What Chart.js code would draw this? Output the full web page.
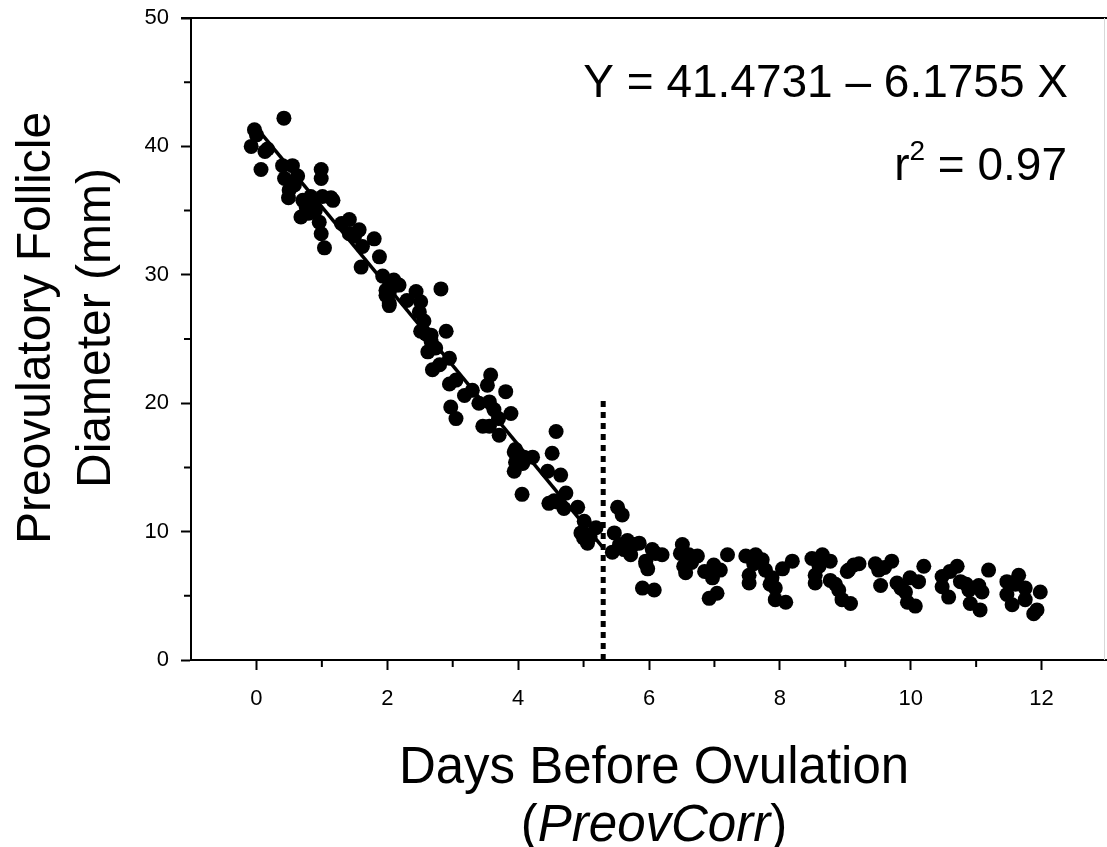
<!DOCTYPE html>
<html>
<head>
<meta charset="utf-8">
<script src="https://cdn.jsdelivr.net/npm/chart.js@4.4.1/dist/chart.umd.min.js"></script>
<style>
  body { margin: 0; background: #fff; }
  #wrap { width: 1107px; height: 847px; }
</style>
</head>
<body>
<div id="wrap"><canvas id="chart" width="1107" height="847"></canvas></div>
<script>
// days before ovulation (x) and follicle diameter in mm (y)
const daysX = [
  -0.03, 0.0, -0.08, 0.17, 0.07, 0.42, 0.40, 0.55, 0.43, 0.63, 0.50, 0.49, 0.99, 0.99, 0.71, 0.68,
  0.86, 1.01, 1.17, 0.96, 0.99, 1.04, 0.76, 0.83, 1.14, 0.13, 0.58, 0.80, 0.90,
  1.42, 1.57, 1.42, 1.80, 1.62, 1.88, 1.60, 1.93, 2.13, 2.03, 1.98, 2.03, 2.03, 2.03, 1.50, 1.30,
  2.18, 2.10, 1.98,
  2.44, 2.82, 2.51, 2.49, 2.56, 2.51, 2.67, 2.90, 2.62, 2.74, 2.95, 2.69, 2.95, 3.05, 3.18, 2.97,
  3.05, 2.59, 2.67, 2.30, 2.80,
  3.58, 3.53, 3.81, 3.40, 3.56, 3.63, 3.89, 3.46, 3.56, 3.71, 3.96, 4.09, 4.22, 3.96, 3.94, 3.94,
  4.07, 4.06, 3.30, 3.70,
  4.58, 4.52, 4.45, 4.65, 4.47, 4.73, 4.60, 4.70, 4.91, 5.01, 4.96, 5.06, 5.19, 4.55, 5.10, 5.00,
  5.47, 5.52, 5.59, 5.44, 5.67, 5.62, 5.77, 5.85, 5.72, 5.95, 5.98, 6.10, 6.20, 5.90, 6.08, 6.05,
  5.95, 5.55,
  6.51, 6.48, 6.61, 6.74, 6.56, 6.53, 6.99, 7.20, 7.09, 6.97, 7.04, 6.92, 7.48, 7.63, 7.73, 7.53,
  7.53, 7.78, 7.88, 8.04, 8.19, 7.93, 7.93, 8.09, 8.49, 8.65, 8.77, 8.54, 8.54, 8.77, 8.90, 9.03,
  9.13, 8.95, 9.08, 6.65, 7.60, 8.60, 6.85, 7.85, 8.85,
  9.05, 9.21, 9.46, 9.71, 9.51, 9.54, 9.79, 9.92, 9.99, 9.95, 10.07, 10.20, 10.12, 10.48, 10.48,
  10.58, 10.71, 10.76, 10.89, 10.91, 11.06, 11.04, 11.09, 11.19, 11.47, 11.65, 11.47, 11.55, 11.75,
  11.75, 11.98, 11.88, 11.93, 9.60, 10.60, 11.60, 9.85, 10.85
];
const diameterY = [
  41.3, 40.9, 40.0, 39.8, 38.2, 42.2, 38.5, 38.5, 37.5, 37.7, 36.6, 36.0, 38.2, 37.5, 35.8, 34.5,
  35.6, 36.1, 35.8, 34.1, 33.2, 32.1, 35.3, 36.1, 36.0, 39.6, 37.0, 34.8, 35.0,
  34.3, 33.5, 33.2, 32.8, 32.2, 31.4, 30.6, 29.9, 29.2, 29.1, 28.4, 27.8, 28.6, 27.6, 33.0, 34.0,
  29.2, 29.6, 28.8,
  28.7, 28.9, 27.9, 27.1, 26.4, 25.6, 25.3, 25.6, 24.0, 24.3, 23.5, 22.6, 21.5, 21.8, 20.6, 19.7,
  18.8, 25.4, 24.8, 28.0, 23.0,
  22.2, 21.4, 20.9, 20.0, 20.1, 19.5, 19.2, 18.2, 18.2, 17.5, 16.4, 15.8, 15.8, 15.4, 16.2, 14.7,
  15.3, 12.9, 21.0, 18.8,
  17.8, 16.1, 14.7, 14.4, 12.2, 13.0, 12.3, 11.8, 11.9, 10.8, 9.9, 9.1, 10.3, 12.4, 9.6, 9.5,
  9.9, 11.9, 11.3, 8.4, 9.3, 8.6, 9.0, 9.1, 8.2, 7.5, 7.1, 8.3, 8.2, 5.6, 5.45, 8.6,
  7.7, 9.0,
  9.0, 8.3, 8.2, 8.1, 6.8, 7.3, 7.4, 8.2, 7.0, 6.4, 5.2, 4.8, 8.1, 8.2, 7.8, 6.6,
  6.0, 7.0, 6.4, 7.1, 7.7, 5.6, 4.7, 4.5, 7.9, 8.2, 7.7, 6.6, 6.0, 6.2, 5.45, 6.9,
  7.4, 4.7, 4.4, 7.6, 7.5, 7.3, 6.9, 5.9, 5.9,
  7.0, 7.5, 7.5, 7.7, 7.0, 5.8, 6.0, 5.3, 6.4, 4.5, 4.2, 7.3, 6.1, 6.5, 5.7,
  4.9, 7.3, 6.1, 5.45, 4.4, 3.9, 5.8, 5.3, 7.0, 6.1, 6.6, 5.1, 4.3, 5.6,
  4.7, 5.3, 3.6, 3.9, 7.2, 6.9, 5.9, 5.6, 5.9
];

// fitted line (Y = 41.4731 - 6.1755 X) drawn up to the cut-off
const fitX = [0, 5.3];
const fitY = [41.47, 8.74];

// vertical dotted cut-off line
const cutoffX = [5.3, 5.3];
const cutoffY = [0, 20.3];

const xTickValues = [0, 2, 4, 6, 8, 10, 12];
const xMinorValues = [1, 3, 5, 7, 9, 11];
const yTickValues = [0, 10, 20, 30, 40, 50];
const yMinorValues = [5, 15, 25, 35, 45];

const FONT = "'Liberation Sans', Arial, Helvetica, sans-serif";

const decorations = {
  id: "decorations",
  afterDraw(chart) {
    const { ctx, chartArea, scales } = chart;
    ctx.save();

    // top frame line and faint right edge
    ctx.strokeStyle = "#000";
    ctx.lineWidth = 2;
    ctx.beginPath();
    ctx.moveTo(chartArea.left - 10, chartArea.top);
    ctx.lineTo(chartArea.right, chartArea.top);
    ctx.stroke();
    ctx.strokeStyle = "#d8d8d8";
    ctx.lineWidth = 1;
    ctx.beginPath();
    ctx.moveTo(chartArea.right - 2.5, chartArea.top);
    ctx.lineTo(chartArea.right - 2.5, chartArea.bottom);
    ctx.stroke();

    // minor ticks
    ctx.strokeStyle = "#000";
    ctx.lineWidth = 2;
    ctx.beginPath();
    xMinorValues.forEach((v) => {
      const px = scales.x.getPixelForValue(v);
      ctx.moveTo(px, chartArea.bottom);
      ctx.lineTo(px, chartArea.bottom + 7);
    });
    yMinorValues.forEach((v) => {
      const py = scales.y.getPixelForValue(v);
      ctx.moveTo(chartArea.left, py);
      ctx.lineTo(chartArea.left - 7, py);
    });
    ctx.stroke();

    ctx.fillStyle = "#000";

    // y axis title
    ctx.save();
    ctx.translate(0, (chartArea.top + chartArea.bottom) / 2 - 11);
    ctx.rotate(-Math.PI / 2);
    ctx.font = "48px " + FONT;
    ctx.textAlign = "center";
    ctx.textBaseline = "alphabetic";
    ctx.fillText("Preovulatory Follicle", 0, 50);
    ctx.fillText("Diameter (mm)", 0, 110);
    ctx.restore();

    // x axis title
    const cx = (chartArea.left + chartArea.right) / 2 + 5;
    ctx.font = "51px " + FONT;
    ctx.textAlign = "center";
    ctx.textBaseline = "alphabetic";
    ctx.fillText("Days Before Ovulation", cx, 783);

    const upright = "51px " + FONT;
    const italic = "italic 51px " + FONT;
    ctx.font = upright;
    const wOpen = ctx.measureText("(").width;
    const wClose = ctx.measureText(")").width;
    ctx.font = italic;
    const wMid = ctx.measureText("PreovCorr").width;
    let sx = cx - (wOpen + wMid + wClose) / 2;
    ctx.textAlign = "left";
    ctx.font = upright;
    ctx.fillText("(", sx, 841);
    sx += wOpen;
    ctx.font = italic;
    ctx.fillText("PreovCorr", sx, 841);
    sx += wMid;
    ctx.font = upright;
    ctx.fillText(")", sx, 841);

    // regression equation
    ctx.font = "46px " + FONT;
    ctx.textAlign = "right";
    ctx.fillText("Y = 41.4731 \u2013 6.1755 X", 1068, 97);

    const rest = " = 0.97";
    const wRest = ctx.measureText(rest).width;
    ctx.fillText(rest, 1067, 180);
    ctx.font = "28px " + FONT;
    const wSup = ctx.measureText("2").width;
    ctx.fillText("2", 1067 - wRest, 160);
    ctx.font = "46px " + FONT;
    ctx.fillText("r", 1067 - wRest - wSup, 180);

    ctx.restore();
  },
};

new Chart(document.getElementById("chart"), {
  type: "scatter",
  data: {
    datasets: [
      {
        label: "Follicle diameter",
        data: daysX.map((x, i) => ({ x: x, y: diameterY[i] })),
        backgroundColor: "#000",
        borderWidth: 0,
        pointRadius: 7.5,
        pointHoverRadius: 7.5,
      },
      {
        type: "line",
        label: "Fit",
        data: fitX.map((x, i) => ({ x: x, y: fitY[i] })),
        borderColor: "#000",
        borderWidth: 3.5,
        pointRadius: 0,
        fill: false,
      },
      {
        type: "line",
        label: "Cut-off",
        data: cutoffX.map((x, i) => ({ x: x, y: cutoffY[i] })),
        borderColor: "#000",
        borderWidth: 5,
        borderDash: [6, 5],
        borderCapStyle: "butt",
        pointRadius: 0,
        fill: false,
      },
    ],
  },
  options: {
    responsive: false,
    animation: false,
    layout: { autoPadding: false, padding: { top: 18, right: 0, left: 0, bottom: 0 } },
    plugins: {
      legend: { display: false },
      tooltip: { enabled: false },
    },
    scales: {
      x: {
        type: "linear",
        min: -1,
        max: 13,
        afterBuildTicks: (scale) => {
          scale.ticks = xTickValues.map((v) => ({ value: v }));
        },
        afterFit: (scale) => {
          scale.height = 187;
          scale.paddingLeft = 0;
          scale.paddingRight = 0;
        },
        grid: {
          drawOnChartArea: false,
          drawTicks: true,
          tickLength: 10,
          tickWidth: 2,
          tickColor: "#000",
        },
        border: { display: true, color: "#000", width: 2 },
        ticks: {
          color: "#000",
          font: { family: FONT, size: 22 },
          padding: 16,
          maxRotation: 0,
          autoSkip: false,
        },
      },
      y: {
        type: "linear",
        min: 0,
        max: 50,
        afterBuildTicks: (scale) => {
          scale.ticks = yTickValues.map((v) => ({ value: v }));
        },
        afterFit: (scale) => {
          scale.width = 191;
          scale.paddingTop = 0;
          scale.paddingBottom = 0;
        },
        grid: {
          drawOnChartArea: false,
          drawTicks: true,
          tickLength: 10,
          tickWidth: 2,
          tickColor: "#000",
        },
        border: { display: true, color: "#000", width: 2 },
        ticks: {
          color: "#000",
          font: { family: FONT, size: 22 },
          padding: 12,
          autoSkip: false,
        },
      },
    },
  },
  plugins: [decorations],
});
</script>
</body>
</html>
